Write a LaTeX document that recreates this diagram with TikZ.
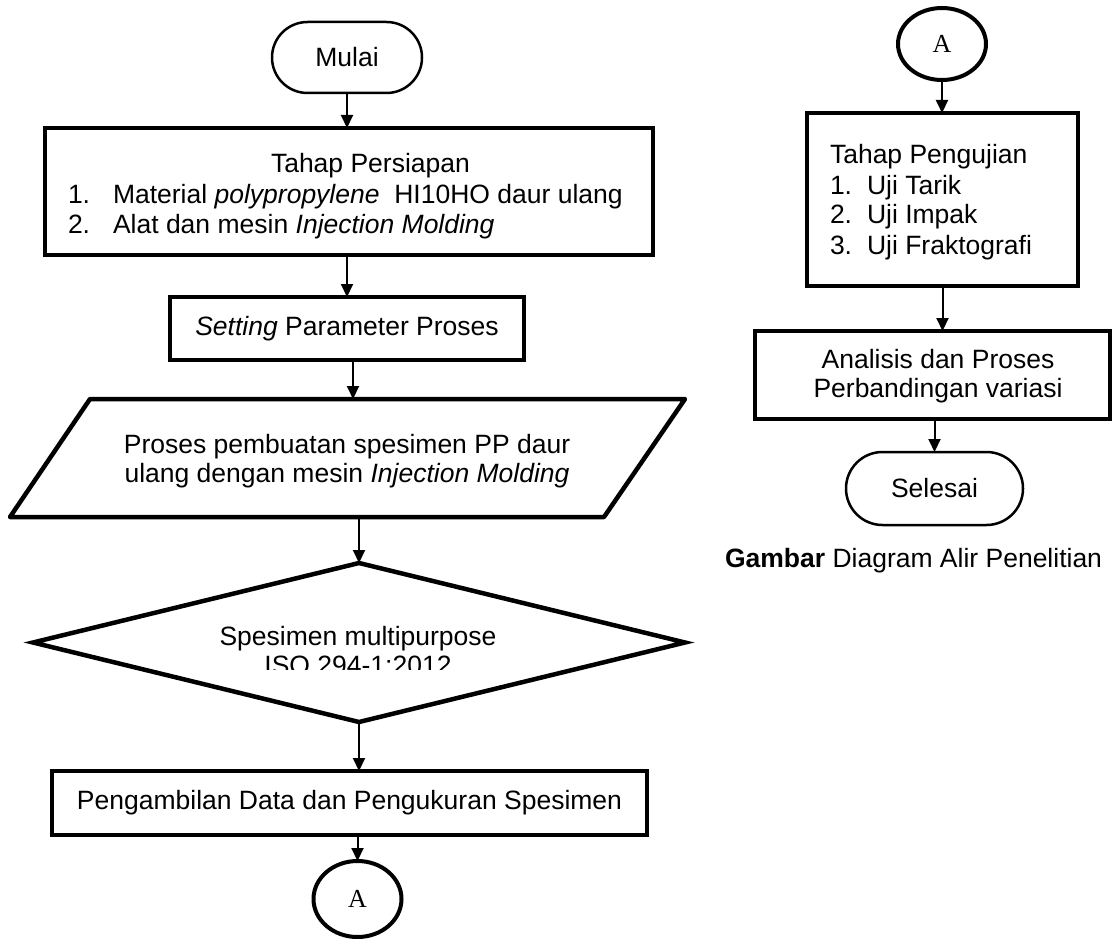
\documentclass[tikz,border=0pt]{standalone}
\usepackage{fontspec}
\setmainfont{Liberation Sans}
\newfontfamily\tnr{Liberation Serif}
\usetikzlibrary{arrows.meta,shapes.misc,shapes.geometric}
\begin{document}
\begin{tikzpicture}[x=1pt,y=-1pt,
  every node/.style={inner sep=0pt,outer sep=0pt,font=\fontsize{26.5}{30}\selectfont},
  termnode/.style={draw,rounded rectangle,line width=2.5pt},
  procbox/.style={draw,rectangle,line width=4.5pt},
  decis/.style={draw,diamond,line width=4.5pt},
  conn/.style={draw,ellipse,line width=4pt,font=\tnr\fontsize{26}{26}\selectfont},
  flow/.style={line width=2pt,-{Triangle[length=13pt,width=12pt]}},
  txt/.style={anchor=base west},
  ctxt/.style={anchor=base}
]
\useasboundingbox (0,0) rectangle (1116,939);

% ---------- left column ----------
\node[termnode,minimum width=150pt,minimum height=71pt] (mulai) at (347,57.5) {Mulai};

\node[procbox,minimum width=608pt,minimum height=127pt] (b1) at (349,191.5) {};
\node[txt] (b1t) at (271,172) {Tahap Persiapan};
\node[txt] (b1n1) at (68,203) {1.};
\node[txt] (b1l1) at (113,203) {Material \textit{polypropylene}\ \ HI10HO daur ulang};
\node[txt] (b1n2) at (68,233) {2.};
\node[txt] (b1l2) at (113,233) {Alat dan mesin \textit{Injection Molding}};

\node[procbox,minimum width=354pt,minimum height=63pt] (b2) at (347,328.5) {\textit{Setting} Parameter Proses};

\draw[line width=4.5pt,line join=round] (90,399) -- (685,399) -- (604,517) -- (10,517) -- cycle;
\coordinate (partop) at (353,399);
\coordinate (parbot) at (359,517);
\node[ctxt] (part1) at (347,453) {Proses pembuatan spesimen PP daur};
\node[ctxt] (part2) at (347,482) {ulang dengan mesin \textit{Injection Molding}};

\node[decis,minimum width=652pt,minimum height=159pt] (dia) at (359,642.5) {};
\node[ctxt] (diat1) at (358,645) {Spesimen multipurpose};
\begin{scope}
\clip (0,600) rectangle (1116,669);
\node[ctxt] (diat2) at (358,674) {ISO 294-1:2012};
\end{scope}

\node[procbox,minimum width=595pt,minimum height=64pt] (b3) at (349.5,803) {Pengambilan Data dan Pengukuran Spesimen};

\node[conn,minimum width=88pt,minimum height=76pt] (conA) at (357.5,899) {A};

% ---------- right column ----------
\node[conn,minimum width=88pt,minimum height=72pt] (conA2) at (942,44) {A};

\node[procbox,minimum width=271pt,minimum height=173pt] (b4) at (942.5,199.5) {};
\node[txt] (b4t) at (830,163) {Tahap Pengujian};
\node[txt] (b4n1) at (830,194) {1.};
\node[txt] (b4l1) at (867,194) {Uji Tarik};
\node[txt] (b4n2) at (830,223) {2.};
\node[txt] (b4l2) at (867,223) {Uji Impak};
\node[txt] (b4n3) at (830,254) {3.};
\node[txt] (b4l3) at (867,254) {Uji Fraktografi};

\node[procbox,minimum width=355pt,minimum height=88pt] (b5) at (932.5,375) {};
\node[ctxt] (b5t1) at (938,368) {Analisis dan Proses};
\node[ctxt] (b5t2) at (938,397) {Perbandingan variasi};

\node[termnode,minimum width=177pt,minimum height=73pt] (selesai) at (934.5,488.5) {Selesai};

\node[txt] (caption) at (725,567) {\textbf{Gambar} Diagram Alir Penelitian};

% ---------- connectors ----------
\draw[flow] (mulai.south) -- (mulai.south |- b1.north);
\draw[flow] (b2.north |- b1.south) -- (b2.north);
\draw[flow] (partop |- b2.south) -- (partop);
\draw[flow] (parbot) -- (parbot |- dia.north);
\draw[flow] (dia.south) -- (dia.south |- b3.north);
\draw[flow] (conA.north |- b3.south) -- (conA.north);

\draw[flow] (conA2.south) -- (conA2.south |- b4.north);
\draw[flow] (b4.south) -- (b4.south |- b5.north);
\draw[flow] (selesai.north |- b5.south) -- (selesai.north);
\end{tikzpicture}
\end{document}
